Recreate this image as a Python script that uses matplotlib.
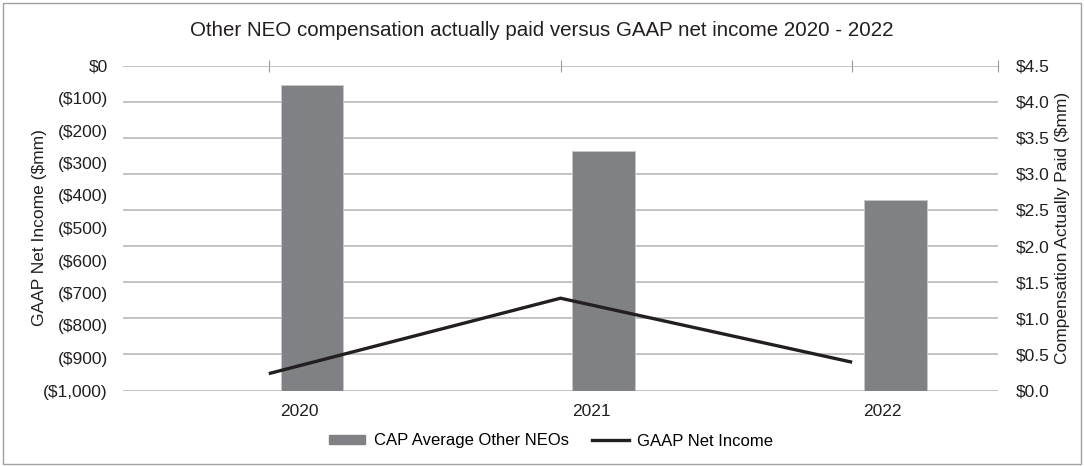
import matplotlib.pyplot as plt
from matplotlib.patches import Rectangle
from matplotlib.lines import Line2D
import numpy as np

years = ['2020', '2021', '2022']
cap_other_neos = [4.23, 3.31, 2.64]
gaap_net_income = [-948, -716, -913]

left_ticks = list(range(-1000, 1, 100))
left_labels = ['$0' if v == 0 else f'(${-v:,})' for v in left_ticks]
right_ticks = [i * 0.5 for i in range(10)]
right_labels = [f'${v:.1f}' for v in right_ticks]

plt.rcParams['font.family'] = ['Liberation Sans', 'DejaVu Sans']

BAR = '#808184'
LINE = '#231f20'
GRID = '#b3b3b3'
TXT = '#231f20'
FS = 12.5


def main():
    fig = plt.figure(figsize=(10.84, 4.66), dpi=100)
    ax = fig.add_axes([123 / 1084, 1 - 390.5 / 466, 875 / 1084, 325 / 466])
    ax2 = ax.twinx()
    x = np.arange(len(years))

    # bars on the right-hand axis
    ax.bar(x + 0.148, cap_other_neos, width=0.215, color=BAR,
           edgecolor='#c8c8c8', linewidth=0.6, zorder=2)
    ax.set_xlim(-0.5, 2.5)
    ax.set_ylim(0, 4.5)
    ax.set_axisbelow(True)
    ax.grid(axis='y', color=GRID, linewidth=1.1)

    ax.set_xticks(x + 0.105)
    ax.set_xticklabels(years)
    ax.tick_params(axis='x', which='major', length=0, pad=10, labelsize=FS, labelcolor=TXT)
    ax.set_xticks([0, 1, 2, 2.5], minor=True)
    ax.tick_params(axis='x', which='minor', bottom=False, top=True, direction='inout',
                   length=8, width=0.8, color='#999999')

    # line on the left-hand axis
    ax2.plot(x, gaap_net_income, color=LINE, linewidth=2.4, solid_capstyle='butt', zorder=3)
    ax2.set_ylim(-1000, 0)

    # swap sides: bars read from right, line from left
    ax.yaxis.tick_right()
    ax.set_yticks(right_ticks)
    ax.set_yticklabels(right_labels)
    ax.tick_params(axis='y', left=False, right=False, labelleft=False, labelright=True,
                   length=0, pad=13, labelsize=FS, labelcolor=TXT)

    ax2.yaxis.tick_left()
    ax2.set_yticks(left_ticks)
    ax2.set_yticklabels(left_labels)
    ax2.tick_params(axis='y', left=False, right=False, labelleft=True, labelright=False,
                    length=0, pad=11, labelsize=FS, labelcolor=TXT)

    ax.set_ylabel('')
    ax2.set_ylabel('')
    fig.text(1062 / 1084, 1 - 228 / 466, 'Compensation Actually Paid ($mm)', rotation=90,
             ha='center', va='center', fontsize=FS, color=TXT)
    fig.text(40 / 1084, 1 - 228 / 466, 'GAAP Net Income ($mm)', rotation=90,
             ha='center', va='center', fontsize=FS, color=TXT)

    for a in (ax, ax2):
        for s in a.spines.values():
            s.set_visible(False)

    fig.text(0.5, 1 - 31 / 466, 'Other NEO compensation actually paid versus GAAP net income 2020 - 2022',
             ha='center', va='center', fontsize=14.8, color=TXT)

    handles = [Rectangle((0, 0), 1, 1, color=BAR),
               Line2D([], [], color=LINE, linewidth=2.4)]
    fig.legend(handles, ['CAP Average Other NEOs', 'GAAP Net Income'], ncol=2,
               loc='center', bbox_to_anchor=(0.508, 1 - 441 / 466), frameon=False,
               fontsize=12, handlelength=2.2, handleheight=0.45, columnspacing=1.4,
               handletextpad=0.5)

    fig.patches.append(Rectangle((3 / 1084, 0.004), 1 - 6 / 1084, 0.99, transform=fig.transFigure,
                                 fill=False, edgecolor='#a0a0a0', linewidth=1))

    fig.savefig('out.png', dpi=100)


if __name__ == "__main__":
    main()
